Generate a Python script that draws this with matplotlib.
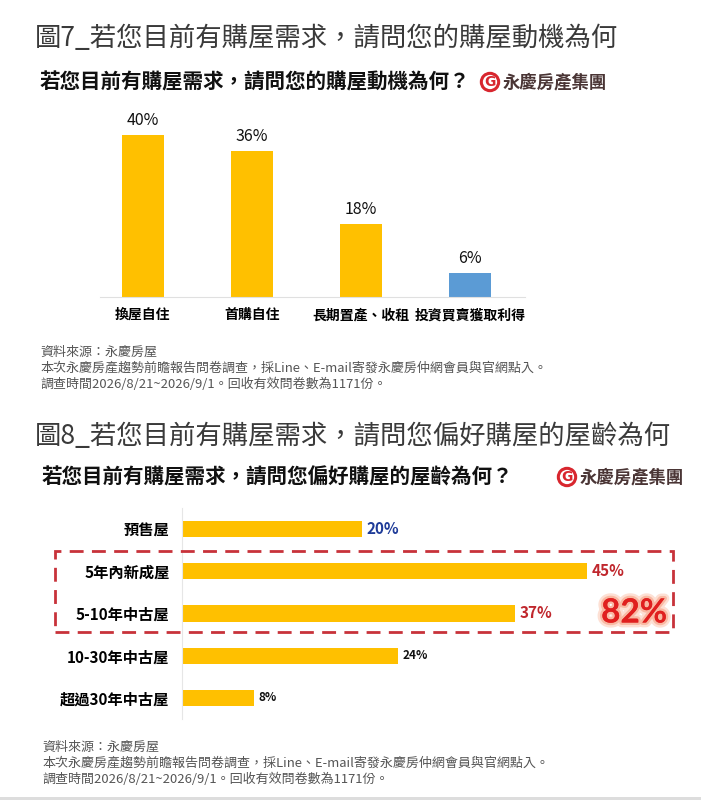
import matplotlib
matplotlib.use('Agg')
import matplotlib.pyplot as plt
import matplotlib.patheffects as pe
from matplotlib.patches import Rectangle

plt.rcParams['font.family'] = ['Noto Sans CJK TC', 'DejaVu Sans']

# data
motive_labels = ['換屋自住', '首購自住', '長期置產、收租', '投資買賣獲取利得']
motive_vals = [40, 36, 18, 6]
motive_colors = ['#FFC000', '#FFC000', '#FFC000', '#5B9BD5']

age_labels = ['預售屋', '5年內新成屋', '5-10年中古屋', '10-30年中古屋', '超過30年中古屋']
age_vals = [20, 45, 37, 24, 8]
age_label_colors = ['#1F3C99', '#C0272D', '#C0272D', '#111111', '#111111']
age_label_sizes = [11, 11, 11, 8.5, 8.5]

title1 = '圖7_若您目前有購屋需求，請問您的購屋動機為何'
sub1 = '若您目前有購屋需求，請問您的購屋動機為何？'
title2 = '圖8_若您目前有購屋需求，請問您偏好購屋的屋齡為何'
sub2 = '若您目前有購屋需求，請問您偏好購屋的屋齡為何？'
brand = '永慶房產集團'
notes = ['資料來源：永慶房屋',
         '本次永慶房產趨勢前瞻報告問卷調查，採Line、E-mail寄發永慶房仲網會員與官網點入。',
         '調查時間2026/8/21~2026/9/1。回收有效問卷數為1171份。']

W, H = 701, 800
fig = plt.figure(figsize=(W / 100, H / 100), dpi=100)
fig.patch.set_facecolor('white')


def px(x, y):
    return x / W, 1 - y / H


def logo(x, y):
    fig.text(*px(x, y), 'G', color='#D8262E', fontsize=10, fontweight='bold',
             ha='center', va='center', family='DejaVu Sans',
             bbox=dict(boxstyle='circle,pad=0.12', fc='white', ec='#D8262E', lw=2.2))
    fig.text(*px(x + 13, y), brand, color='#4a3535', fontsize=12.5,
             fontweight='bold', ha='left', va='center')


def footnotes(x0, y0):
    for i, s in enumerate(notes):
        fig.text(*px(x0, y0 + i * 16), s, color='#555555', fontsize=9.4,
                 ha='left', va='center')


# ---------- chart 1 ----------
fig.text(*px(35, 38), title1, fontsize=19, color='#3a3a3a', weight='light',
         ha='left', va='center')
fig.text(*px(40, 82), sub1, fontsize=14.8, fontweight='bold', color='#111111',
         ha='left', va='center')
logo(490, 82)

l, r, b, t = 100, 525, 297, 115
ax1 = fig.add_axes([l / W, 1 - b / H, (r - l) / W, (b - t) / H])
x = range(len(motive_vals))
bars = ax1.bar(x, motive_vals, width=0.385, color=motive_colors)
ax1.set_xlim(-0.394, 3.505)
ax1.set_ylim(0, 45)
for rect, v in zip(bars, motive_vals):
    ax1.text(rect.get_x() + rect.get_width() / 2, v + 1.5, f'{v}%',
             ha='center', va='bottom', fontsize=11.5, color='#111111')
ax1.set_xticks(list(x))
ax1.set_xticklabels(motive_labels, fontsize=10, fontweight='bold')
ax1.tick_params(axis='x', length=0, pad=8)
ax1.set_yticks([])
for s in ['top', 'left', 'right']:
    ax1.spines[s].set_visible(False)
ax1.spines['bottom'].set_color('#e0e0e0')

footnotes(40, 352)

# ---------- chart 2 ----------
fig.text(*px(35, 437), title2, fontsize=19, color='#3a3a3a', weight='light',
         ha='left', va='center')
fig.text(*px(42, 477), sub2, fontsize=14.8, fontweight='bold', color='#111111',
         ha='left', va='center')
logo(567, 477)

l, r, b, t = 182, 632, 719, 508
ax2 = fig.add_axes([l / W, 1 - b / H, (r - l) / W, (b - t) / H])
y = range(len(age_vals))
ax2.barh(y, age_vals, height=0.38, color='#FFC000')
ax2.set_xlim(0, 50)
ax2.set_ylim(4.5, -0.5)
for i, v in enumerate(age_vals):
    ax2.text(v + 0.5, i, f'{v}%', ha='left', va='center',
             fontsize=age_label_sizes[i], fontweight='bold',
             color=age_label_colors[i])
ax2.set_yticks(list(y))
ax2.set_yticklabels(age_labels, fontsize=11, fontweight='bold')
ax2.tick_params(axis='y', length=0, pad=9)
ax2.set_xticks([])
for s in ['top', 'bottom', 'right']:
    ax2.spines[s].set_visible(False)
ax2.spines['left'].set_color('#e6e6e6')

# dashed highlight around the two newest categories
box = Rectangle(px(55, 632), (673 - 55) / W, (632 - 551) / H,
                transform=fig.transFigure, fill=False, ec='#C8323A',
                lw=2, ls=(0, (5, 3)))
fig.add_artist(box)
total = age_vals[1] + age_vals[2]
fig.text(*px(634, 613), f'{total}%', fontsize=24, fontweight='bold',
         color='#E0201F', ha='center', va='center', family='Lato',
         path_effects=[pe.withStroke(linewidth=7, foreground='#FDE0D4'),
                       pe.withStroke(linewidth=3.5, foreground='#F9B9A3'),
                       pe.Normal()])

footnotes(42, 747)

# light border at bottom
fig.add_artist(Rectangle((0, 0), 1, 3 / H, transform=fig.transFigure,
                         color='#dddddd', lw=0))

fig.savefig('out.png', dpi=100, facecolor='white')
